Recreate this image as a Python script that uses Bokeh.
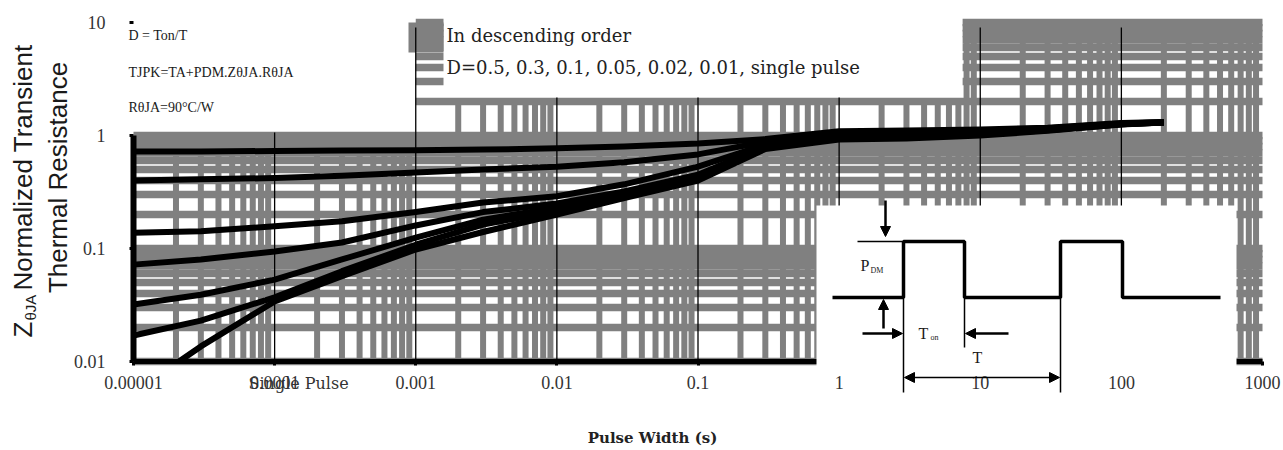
import numpy as np
from bokeh.plotting import figure
from bokeh.models import (Range1d, FixedTicker, CustomJSTickFormatter, Label,
                          Arrow, NormalHead)
from bokeh.embed import file_html
from bokeh.resources import INLINE

# ---------------- data ----------------
pulse_width = [1e-5, 3e-5, 1e-4, 3e-4, 1e-3, 3e-3, 1e-2, 3e-2, 0.1, 0.3,
               1, 3, 10, 30, 100, 200]
z_d050 = [0.72, 0.72, 0.73, 0.735, 0.74, 0.75, 0.77, 0.80, 0.85, 0.93,
          1.09, 1.11, 1.13, 1.17, 1.29, 1.32]
z_d030 = [0.40, 0.41, 0.42, 0.44, 0.47, 0.50, 0.53, 0.58, 0.68, 0.88,
          1.06, 1.08, 1.11, 1.16, 1.28, 1.31]
z_d010 = [0.138, 0.142, 0.157, 0.174, 0.21, 0.255, 0.29, 0.37, 0.53, 0.83,
          1.02, 1.04, 1.08, 1.14, 1.27, 1.31]
z_d005 = [0.072, 0.080, 0.094, 0.113, 0.16, 0.21, 0.25, 0.32, 0.45, 0.80,
          0.99, 1.01, 1.06, 1.13, 1.27, 1.30]
z_d002 = [0.032, 0.039, 0.053, 0.080, 0.125, 0.18, 0.23, 0.30, 0.42, 0.78,
          0.96, 0.98, 1.04, 1.12, 1.26, 1.30]
z_d001 = [0.017, 0.023, 0.037, 0.063, 0.108, 0.163, 0.215, 0.29, 0.41, 0.77,
          0.94, 0.96, 1.02, 1.11, 1.26, 1.30]
pulse_width_single = [2.1e-5, 3e-5, 1e-4, 3e-4, 1e-3, 3e-3, 1e-2, 3e-2, 0.1,
                      0.3, 1, 3, 10, 30, 100, 200]
z_single = [0.010, 0.0136, 0.034, 0.057, 0.098, 0.14, 0.20, 0.28, 0.40, 0.76,
            0.92, 0.94, 1.00, 1.10, 1.25, 1.30]

x_tick_values = [1e-5, 1e-4, 1e-3, 1e-2, 1e-1, 1, 10, 100, 1000]
x_tick_labels = ["0.00001", "0.0001", "0.001", "0.01", "0.1", "1", "10", "100", "1000"]
y_tick_values = [0.01, 0.1, 1, 10]
y_tick_labels = ["0.01", "0.1", "1", "10"]

# ---------------- layout ----------------
W, H = 1283, 450
FL, FR, FT, FB = 133, 1262, 22, 361      # plot area of the original chart
LX0, LX1, LY0, LY1 = -5, 3, -2, 1         # decades shown
GRAY = "#808080"


def xd(px):
    return 10 ** (LX0 + (LX1 - LX0) * (px - FL) / (FR - FL))


def yd(py):
    return 10 ** (LY1 - (LY1 - LY0) * (py - FT) / (FB - FT))


XMIN, XMAX, YMIN, YMAX = 10 ** LX0, 10 ** LX1, 10 ** LY0, 10 ** LY1

p = figure(width=W, height=H, x_axis_type="log", y_axis_type="log",
           x_range=Range1d(xd(0), xd(W)), y_range=Range1d(yd(H), yd(0)),
           output_backend="svg", toolbar_location=None,
           min_border_left=0, min_border_right=0, min_border_top=0, min_border_bottom=0)
p.min_border = 0
p.outline_line_color = None
p.xgrid.grid_line_color = None
p.ygrid.grid_line_color = None
p.background_fill_color = "white"
p.border_fill_color = "white"

# axes drawn at the chart's own edges
fmt_code = "return labels[Math.round(Math.log10(tick)) - start];"
p.xaxis.ticker = FixedTicker(ticks=x_tick_values)
p.xaxis.formatter = CustomJSTickFormatter(args=dict(labels=x_tick_labels, start=LX0), code=fmt_code)
p.yaxis.ticker = FixedTicker(ticks=y_tick_values)
p.yaxis.formatter = CustomJSTickFormatter(args=dict(labels=y_tick_labels, start=LY0), code=fmt_code)
p.xaxis.fixed_location = YMIN
p.yaxis.fixed_location = XMIN
for ax in (p.xaxis, p.yaxis):
    ax.axis_line_color = None
    ax.major_tick_line_color = "black"
    ax.major_tick_line_width = 3
    ax.major_tick_out = 4
    ax.major_tick_in = 0
    ax.minor_tick_line_color = None
    ax.major_label_text_font = "Liberation Serif"
    ax.major_label_text_font_size = "18px"
    ax.major_label_text_color = "#333333"
p.xaxis.major_label_standoff = 10
p.yaxis.major_label_standoff = 24

# ---------------- gray grid ----------------
minor_x = [k * 10.0 ** d for d in range(LX0, LX1) for k in range(2, 10)]
vx, vtop = [], []
for xv in minor_x:
    vx.append(xv)
    vtop.append(1.0 if xv < 1e-3 else (2.0 if xv < 7.5 else YMAX))
p.segment(x0=vx, y0=YMIN, x1=vx, y1=vtop, line_color=GRAY, line_width=6)

minor_y = [k * 10.0 ** d for d in range(LY0, LY1) for k in range(1, 10)] + [YMAX]
hx0, hx1, hy = [], [], []
for yv in minor_y:
    if yv <= 1.0001:
        hx0.append(XMIN); hx1.append(XMAX); hy.append(yv)
    elif yv < 2.5:
        hx0.append(1e-3); hx1.append(XMAX); hy.append(yv)
    else:
        hx0.append(1e-3); hx1.append(xd(443)); hy.append(yv)
        hx0.append(7.5); hx1.append(XMAX); hy.append(yv)
p.segment(x0=hx0, y0=hy, x1=hx1, y1=hy, line_color=GRAY, line_width=7.5)
p.quad(left=xd(408), right=xd(443), bottom=yd(52), top=YMAX, fill_color=GRAY, line_color=None)

# black decade lines
major_x = [1e-4, 1e-3, 1e-2, 1e-1, 1, 10, 100]
major_top = [yd(132), yd(27), yd(97), yd(97), yd(97), yd(27), yd(27)]
p.segment(x0=major_x, y0=YMIN, x1=major_x, y1=major_top, line_color="black", line_width=1.3)

# ---------------- curves ----------------
for z in (z_d050, z_d030, z_d010, z_d005, z_d002, z_d001):
    p.line(pulse_width, z, line_color="black", line_width=6, line_join="round")
p.line(pulse_width_single, z_single, line_color="black", line_width=6, line_join="round")

# thick axis lines
p.segment(x0=XMIN, y0=YMIN, x1=XMAX, y1=YMIN, line_color="black", line_width=5)
p.segment(x0=XMIN, y0=YMIN, x1=XMIN, y1=1, line_color="black", line_width=6)

# ---------------- inset pulse diagram ----------------
p.quad(left=xd(816), right=xd(1236), bottom=yd(369), top=yd(205),
       fill_color="white", line_color=None, level="annotation")
wave_px = [832, 903, 903, 964, 964, 1060, 1060, 1122, 1122, 1220]
wave_py = [297, 297, 241, 241, 297, 297, 241, 241, 297, 297]
p.line([xd(v) for v in wave_px], [yd(v) for v in wave_py], line_color="black",
       line_width=3.5, level="annotation")


def seg(x0, y0, x1, y1, w=1.5, start=None, end=None):
    p.add_layout(Arrow(x_start=xd(x0), y_start=yd(y0), x_end=xd(x1), y_end=yd(y1),
                       start=start, end=end, line_width=w, line_color="black"))


def head():
    return NormalHead(size=10, fill_color="black", line_color="black", line_width=1)


seg(857, 241, 903, 241)
seg(903, 297, 903, 392)
seg(964, 297, 964, 347)
seg(1060, 297, 1060, 392)
seg(885, 200, 885, 236, w=2.5, end=head())
seg(883, 328, 883, 299, w=2.5, end=head())
seg(862, 333, 902, 333, w=2.5, end=head())
seg(1008, 333, 965, 333, w=2.5, end=head())
seg(904, 377, 1059, 377, w=1.5, start=head(), end=head())


def lab(px, py, text, size, font="Liberation Serif", style="normal", align="left",
        angle=0.0, color="#1a1a1a"):
    p.add_layout(Label(x=xd(px), y=yd(py), text=text, text_font=font,
                       text_font_size=size, text_font_style=style, text_align=align,
                       text_baseline="middle", angle=angle, text_color=color))


lab(860, 265, "P", "16px")
lab(870, 270, "DM", "8px")
lab(918, 333, "T", "16px")
lab(930, 337, "on", "8px")
lab(972, 357, "T", "16px")

# ---------------- texts ----------------
lab(128, 35, "D = Ton/T", "14px")
lab(128, 72, "TJPK=TA+PDM.ZθJA.RθJA", "14px")
lab(128, 107, "RθJA=90°C/W", "14px")
lab(446, 35, "In descending order", "18px", font="DejaVu Serif", color="#222222")
lab(446, 67, "D=0.5, 0.3, 0.1, 0.05, 0.02, 0.01, single pulse", "18px",
    font="DejaVu Serif", color="#222222")
lab(248, 383, "Single Pulse", "16px", font="DejaVu Serif", color="#333333")
lab(652, 437, "Pulse Width (s)", "15px", font="DejaVu Serif", style="bold",
    align="center", color="#222222")
# rotated axis title, Z with subscript θJA
lab(22, 337, "Z", "26px", font="Liberation Sans", angle=np.pi / 2)
lab(30, 320, "θJA", "15px", font="Liberation Sans", angle=np.pi / 2)
lab(22, 290, "Normalized Transient", "26px", font="Liberation Sans", angle=np.pi / 2)
lab(57, 177, "Thermal Resistance", "26px", font="Liberation Sans",
    align="center", angle=np.pi / 2)

open("out.html", "w").write(file_html(p, INLINE))
